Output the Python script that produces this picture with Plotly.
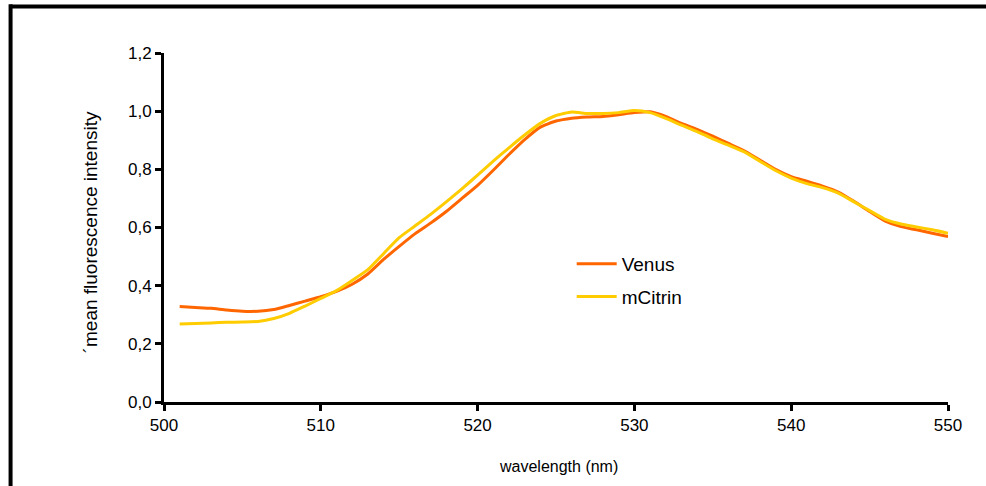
import plotly.graph_objects as go

wavelength = list(range(501, 551))
venus = [0.328, 0.325, 0.322, 0.316, 0.312, 0.312, 0.318, 0.332, 0.347, 0.362,
         0.380, 0.405, 0.440, 0.490, 0.535, 0.578, 0.615, 0.655, 0.700, 0.745,
         0.797, 0.851, 0.902, 0.945, 0.966, 0.976, 0.980, 0.982, 0.988, 0.995,
         0.998, 0.982, 0.958, 0.937, 0.914, 0.889, 0.864, 0.832, 0.800, 0.775,
         0.759, 0.742, 0.722, 0.690, 0.655, 0.622, 0.603, 0.592, 0.580, 0.569]
mcitrin = [0.268, 0.270, 0.272, 0.274, 0.275, 0.277, 0.287, 0.305, 0.330, 0.356,
           0.383, 0.418, 0.455, 0.510, 0.565, 0.605, 0.645, 0.688, 0.733, 0.780,
           0.828, 0.874, 0.918, 0.958, 0.985, 0.997, 0.992, 0.992, 0.995, 1.002,
           0.995, 0.975, 0.952, 0.930, 0.905, 0.883, 0.860, 0.828, 0.796, 0.770,
           0.751, 0.737, 0.718, 0.688, 0.658, 0.628, 0.612, 0.602, 0.592, 0.580]

x_ticks = [500, 510, 520, 530, 540, 550]
y_ticks = [0.0, 0.2, 0.4, 0.6, 0.8, 1.0, 1.2]
y_tick_text = ["0,0", "0,2", "0,4", "0,6", "0,8", "1,0", "1,2"]

font = "Liberation Sans, Arial, sans-serif"

fig = go.Figure()
fig.add_trace(go.Scatter(x=wavelength, y=venus, mode="lines", name="Venus",
                         line=dict(color="#FF6600", width=3, shape="spline", smoothing=0.5),
                         legendgroup="a"))
fig.add_trace(go.Scatter(x=wavelength, y=mcitrin, mode="lines", name="mCitrin",
                         line=dict(color="#FFCC00", width=3, shape="spline", smoothing=0.5),
                         legendgroup="b"))

fig.update_layout(
    width=986, height=486,
    margin=dict(l=163.5, r=38.3, t=53.3, b=84.3),
    paper_bgcolor="white", plot_bgcolor="white",
    font=dict(family=font, size=17, color="black"),
    showlegend=True,
    legend=dict(x=0.52, y=0.45, xanchor="left", yanchor="top",
                bgcolor="rgba(0,0,0,0)", font=dict(size=19, color="black"),
                tracegroupgap=5, traceorder="grouped", itemwidth=40),
    xaxis=dict(range=[500, 550], tickvals=x_ticks, ticktext=[str(v) for v in x_ticks],
               showgrid=False, zeroline=False, showline=True, linecolor="black",
               linewidth=3, ticks="outside", tickwidth=3, ticklen=6, tickcolor="black",
               tickfont=dict(size=17)),
    yaxis=dict(range=[0, 1.2], tickvals=y_ticks, ticktext=y_tick_text,
               showgrid=False, zeroline=False, showline=True, linecolor="black",
               linewidth=3, ticks="outside", tickwidth=3, ticklen=6, tickcolor="black",
               tickfont=dict(size=17)),
    annotations=[
        dict(text="wavelength (nm)", xref="paper", yref="paper",
             x=0.503, y=-0.185, xanchor="center", yanchor="middle",
             showarrow=False, font=dict(size=16)),
        dict(text="´mean fluorescence intensity", xref="paper", yref="paper",
             x=-0.094, y=0.487, xanchor="center", yanchor="middle", textangle=-90,
             showarrow=False, font=dict(size=19)),
    ],
    shapes=[
        dict(type="line", xref="paper", yref="paper", x0=-0.1957, x1=1.1, y0=1.133, y1=1.133,
             line=dict(color="black", width=4)),
        dict(type="line", xref="paper", yref="paper", x0=-0.1957, x1=-0.1957, y0=1.14, y1=-0.3,
             line=dict(color="black", width=4)),
    ],
)

fig.write_html("out.html")
